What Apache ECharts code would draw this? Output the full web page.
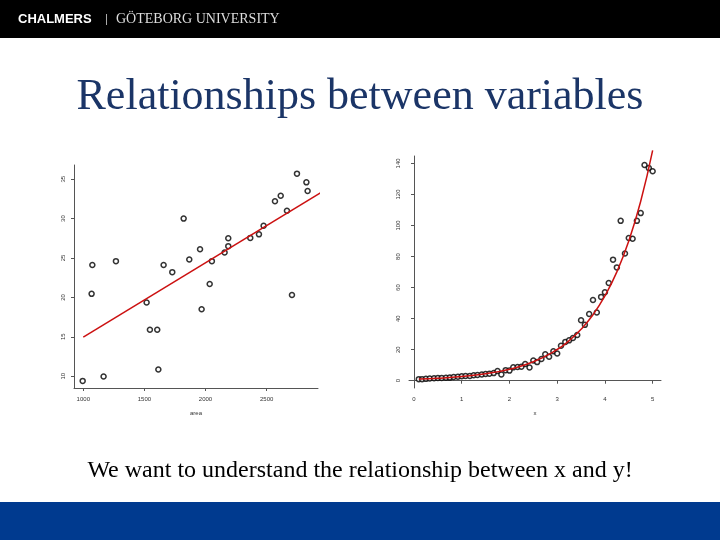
<!DOCTYPE HTML>
<html>
<head>
<meta charset="utf-8">
<script src="https://cdn.jsdelivr.net/npm/echarts@6/dist/echarts.min.js"></script>
<title>Relationships between variables</title>
<style>body{margin:0;background:#fff}</style>
</head>
<body>
<div id="slide" style="width:720px;height:540px;"></div>
<script type="text/javascript">
// left plot: area vs y
var areaX = [995,1166,1068,1074,1267,1518,1545,1605,1614,1657,1728,1821,1867,1955,1968,2034,2052,2156,2186,2186,2366,2437,2475,2568,2615,2666,2707,2748,2825,2835];
var areaY = [9.4,9.96,20.45,24.1,24.6,19.35,15.9,15.9,10.85,24.1,23.2,30.0,24.8,26.1,18.5,21.7,24.6,25.7,26.5,27.5,27.55,28.0,29.1,32.2,32.9,31.0,20.3,35.7,34.6,33.5];
var areaFitX = [1000,2996];
var areaFitY = [14.95,33.8];
var areaTicksX = [1000,1500,2000,2500];
var areaTicksY = [10,15,20,25,30,35];

// right plot: x vs y (exponential)
var expX = [0.1,0.17,0.25,0.33,0.42,0.5,0.58,0.67,0.75,0.83,0.92,1.0,1.08,1.17,1.25,1.33,1.42,1.5,1.58,1.67,1.75,1.83,1.92,2.0,2.08,2.17,2.25,2.33,2.42,2.5,2.58,2.67,2.75,2.83,2.92,3.0,3.08,3.17,3.25,3.33,3.42,3.5,3.58,3.67,3.75,3.83,3.92,4.0,4.08,4.17,4.25,4.33,4.42,4.5,4.58,4.67,4.75,4.83,4.92,5.0];
var expY = [1,1,1.2,1.4,1.6,1.7,1.8,1.9,2.0,2.4,2.6,2.9,3.0,3.1,3.5,3.7,4.0,4.3,4.5,4.9,6.3,4.0,6.8,6.5,8.6,8.8,9.0,10.8,8.5,13.0,12.0,14.0,17.0,15.5,19.0,17.5,22.5,25,26,27.5,29.5,39,36,43,52,44,54,57,63,78,73,103,82,92,91.5,103,108,139,137,135];
var curveX = [0.1,0.5,1.0,1.5,2.0,2.5,3.0,3.25,3.5,3.75,4.0,4.25,4.5,4.75,5.0];
var curveY = [1.1,1.6,2.7,4.5,7.4,12.2,20.1,25.8,33.1,42.5,54.6,70.1,90.0,115.6,148.4];
var expTicksX = [0,1,2,3,4,5];
var expTicksY = [0,20,40,60,80,100,120,140];

function pairs(xs, ys){ return xs.map(function(v,i){ return [v, ys[i]]; }); }
function plain(v){ return String(v); }

var lbl = {fontSize:6, color:'#333', fontFamily:'Liberation Sans', formatter:plain};
var ax = {lineStyle:{color:'#555', width:1}};

var chart = echarts.init(document.getElementById('slide'));
chart.setOption({
    backgroundColor:'#fff',
    animation:false,
    graphic:[
        {type:'rect', shape:{x:0,y:0,width:720,height:38}, style:{fill:'#000'}},
        {type:'text', left:18, top:13, style:{text:'CHALMERS', fill:'#fff', font:'bold 13px Liberation Sans'}},
        {type:'rect', shape:{x:106,y:14,width:1,height:11}, style:{fill:'#aaa'}},
        {type:'text', left:116, top:12, style:{text:'GÖTEBORG UNIVERSITY', fill:'#ddd', font:'14px Liberation Serif'}},
        {type:'text', left:'center', top:75, style:{text:'Relationships between variables', fill:'#1b3567', font:'44px Liberation Serif'}},
        {type:'text', left:'center', top:459, style:{text:'We want to understand the relationship between x and y!', fill:'#000', font:'24px Liberation Serif'}},
        {type:'rect', shape:{x:0,y:502,width:720,height:38}, style:{fill:'#003a8f'}}
    ],
    grid:[
        {left:74, top:165, width:244, height:223},
        {left:409, top:156, width:252, height:232}
    ],
    xAxis:[
        {gridIndex:0, type:'value', min:924, max:2920, splitLine:{show:false},
         axisLine:ax, axisTick:{customValues:areaTicksX, length:3}, axisLabel:Object.assign({customValues:areaTicksX}, lbl),
         name:'area', nameLocation:'middle', nameGap:22, nameTextStyle:lbl},
        {gridIndex:1, type:'value', min:-0.105, max:5.175, splitLine:{show:false},
         axisLine:ax, axisTick:{customValues:expTicksX, length:3}, axisLabel:Object.assign({customValues:expTicksX}, lbl),
         name:'x', nameLocation:'middle', nameGap:22, nameTextStyle:lbl}
    ],
    yAxis:[
        {gridIndex:0, type:'value', min:8.5, max:36.8, splitLine:{show:false},
         axisLine:ax, axisTick:{customValues:areaTicksY, length:3}, axisLabel:Object.assign({customValues:areaTicksY, rotate:90}, lbl)},
        {gridIndex:1, type:'value', min:-4.7, max:144.8, splitLine:{show:false},
         axisLine:ax, axisTick:{customValues:expTicksY, length:3}, axisLabel:Object.assign({customValues:expTicksY, rotate:90}, lbl)}
    ],
    series:[
        {type:'line', xAxisIndex:0, yAxisIndex:0, data:pairs(areaFitX, areaFitY), symbol:'none', clip:false,
         lineStyle:{color:'#cc1111', width:1.5}},
        {type:'scatter', xAxisIndex:0, yAxisIndex:0, data:pairs(areaX, areaY), symbolSize:5,
         itemStyle:{color:'#fff', borderColor:'#000', borderWidth:1.5}},
        {type:'scatter', xAxisIndex:1, yAxisIndex:1, data:pairs(expX, expY), symbolSize:5,
         itemStyle:{color:'#fff', borderColor:'#000', borderWidth:1.5}},
        {type:'line', xAxisIndex:1, yAxisIndex:1, data:pairs(curveX, curveY), symbol:'none', smooth:true, clip:false,
         lineStyle:{color:'#cc1111', width:1.5}}
    ]
});
</script>
</body>
</html>
